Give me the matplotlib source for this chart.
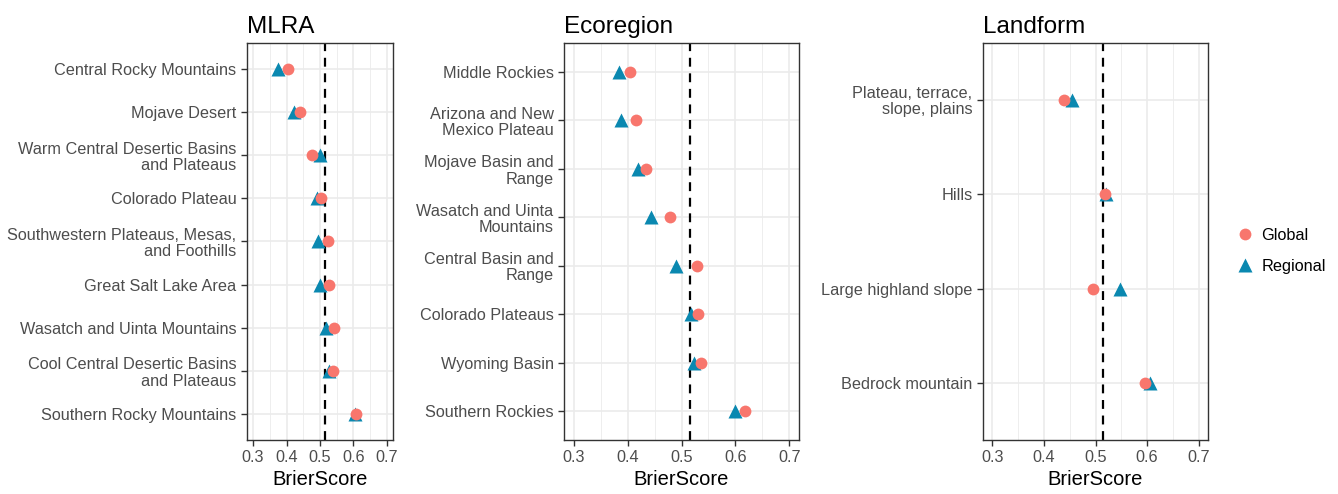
import matplotlib.pyplot as plt
from matplotlib.lines import Line2D

plt.rcParams["font.family"] = ["Liberation Sans", "DejaVu Sans"]

GLOBAL_COLOR = "#F8766D"
REGIONAL_COLOR = "#0A88B0"
REF_LINE = 0.515

mlra_labels = [
    "Central Rocky Mountains",
    "Mojave Desert",
    "Warm Central Desertic Basins\nand Plateaus",
    "Colorado Plateau",
    "Southwestern Plateaus, Mesas,\nand Foothills",
    "Great Salt Lake Area",
    "Wasatch and Uinta Mountains",
    "Cool Central Desertic Basins\nand Plateaus",
    "Southern Rocky Mountains",
]
mlra_global = [0.405, 0.440, 0.475, 0.502, 0.524, 0.528, 0.541, 0.540, 0.607]
mlra_regional = [0.375, 0.422, 0.500, 0.492, 0.495, 0.500, 0.517, 0.528, 0.604]

eco_labels = [
    "Middle Rockies",
    "Arizona and New\nMexico Plateau",
    "Mojave Basin and\nRange",
    "Wasatch and Uinta\nMountains",
    "Central Basin and\nRange",
    "Colorado Plateaus",
    "Wyoming Basin",
    "Southern Rockies",
]
eco_global = [0.405, 0.416, 0.434, 0.479, 0.529, 0.531, 0.536, 0.618]
eco_regional = [0.384, 0.388, 0.420, 0.444, 0.490, 0.518, 0.524, 0.599]

land_labels = [
    "Plateau, terrace,\nslope, plains",
    "Hills",
    "Large highland slope",
    "Bedrock mountain",
]
land_global = [0.439, 0.518, 0.495, 0.596]
land_regional = [0.454, 0.521, 0.548, 0.605]

x_ticks = [0.3, 0.4, 0.5, 0.6, 0.7]
x_minor = [0.35, 0.45, 0.55, 0.65]

W, H = 1338, 494
fig = plt.figure(figsize=(W / 100, H / 100), dpi=100)


def panel(left, right, title, labels, glob, reg):
    top, bottom = 43, 440
    ax = fig.add_axes([left / W, 1 - bottom / H, (right - left) / W, (bottom - top) / H])
    y = list(range(len(labels)))
    for v in x_minor:
        ax.axvline(v, color="#EBEBEB", lw=0.6, zorder=0)
    for v in x_ticks:
        ax.axvline(v, color="#EBEBEB", lw=1.2, zorder=0)
    for v in y:
        ax.axhline(v, color="#EBEBEB", lw=1.2, zorder=0)
    ax.axvline(REF_LINE, color="black", lw=1.6, ls=(0, (4, 3)), zorder=1)
    ax.plot(reg, y, ls="none", marker="^", ms=10, color=REGIONAL_COLOR,
            mec="none", zorder=2)
    ax.plot(glob, y, ls="none", marker="o", ms=8.5, color=GLOBAL_COLOR,
            mec="none", zorder=3)
    ax.set_xlim(0.282, 0.718)
    ax.set_ylim(len(labels) - 1 + 0.6, -0.6)
    ax.set_xticks(x_ticks)
    ax.set_xticklabels([f"{t:.1f}" for t in x_ticks])
    ax.set_yticks(y)
    ax.set_yticklabels(labels, ha="right", multialignment="right",
                       linespacing=1.1)
    ax.tick_params(colors="#333333", labelcolor="#4D4D4D", labelsize=11.7,
                   length=4, width=1)
    for s in ax.spines.values():
        s.set_color("#333333")
        s.set_linewidth(1)
    ax.set_xlabel("BrierScore", fontsize=14.5, labelpad=3)
    ax.set_title(title, loc="left", fontsize=17.5, pad=7)
    return ax


panel(247, 393, "MLRA", mlra_labels, mlra_global, mlra_regional)
panel(564, 799, "Ecoregion", eco_labels, eco_global, eco_regional)
panel(983, 1208, "Landform", land_labels, land_global, land_regional)

handles = [
    Line2D([], [], ls="none", marker="o", ms=8.5, color=GLOBAL_COLOR, mec="none"),
    Line2D([], [], ls="none", marker="^", ms=10, color=REGIONAL_COLOR, mec="none"),
]
fig.legend(handles, ["Global", "Regional"], loc="center left",
           bbox_to_anchor=(1221 / W, 1 - 251 / H), frameon=False,
           fontsize=11.7, handletextpad=0.4, labelspacing=1.0,
           handlelength=1.2)

fig.savefig("out.png", dpi=100)
